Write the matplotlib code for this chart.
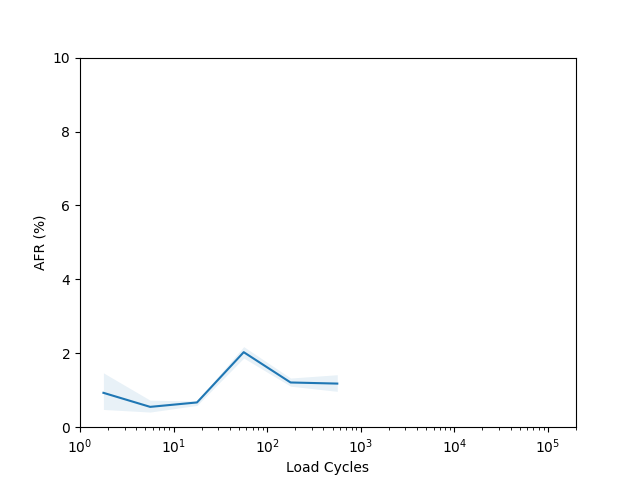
import matplotlib
matplotlib.use("Agg")
import matplotlib.pyplot as plt

# bin centres (load cycles) and AFR values
cycles = [1.78, 5.62, 17.8, 56.2, 178, 562]
afr = [0.93, 0.55, 0.67, 2.03, 1.21, 1.18]
afr_low = [0.48, 0.41, 0.59, 1.87, 1.11, 0.97]
afr_high = [1.47, 0.73, 0.71, 2.18, 1.33, 1.42]

fig, ax = plt.subplots(figsize=(6.4, 4.8), dpi=100)
ax.plot(cycles, afr, color="C0")
ax.fill_between(cycles, afr_low, afr_high, color="C0", alpha=0.1, linewidth=0)
ax.set_xscale("log")
ax.set_xlim(1, 2e5)
ax.set_ylim(0, 10)
ax.set_xlabel("Load Cycles")
ax.set_ylabel("AFR (%)")
fig.savefig("out.png")
